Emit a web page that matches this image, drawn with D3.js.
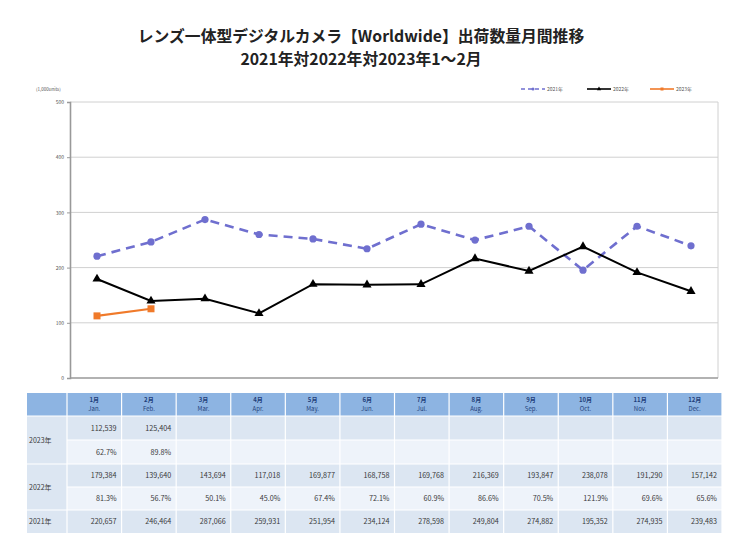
<!DOCTYPE html>
<html><head><meta charset="utf-8">
<script src="https://cdn.jsdelivr.net/npm/d3@7"></script>
<style>body{margin:0;background:#fff}svg{display:block}</style>
</head><body><div id="chart"></div>
<script>
const monthsJa = ["1月","2月","3月","4月","5月","6月","7月","8月","9月","10月","11月","12月"];
const monthsEn = ["Jan.","Feb.","Mar.","Apr.","May.","Jun.","Jul.","Aug.","Sep.","Oct.","Nov.","Dec."];
const yTicks = [0,100,200,300,400,500];
const units2021 = [220657,246464,287066,259931,251954,234124,278598,249804,274882,195352,274935,239483];
const units2022 = [179384,139640,143694,117018,169877,168758,169768,216369,193847,238078,191290,157142];
const units2023 = [112539,125404];
const pct2022 = ["81.3%","56.7%","50.1%","45.0%","67.4%","72.1%","60.9%","86.6%","70.5%","121.9%","69.6%","65.6%"];
const pct2023 = ["62.7%","89.8%"];
const seriesNames = ["2021年","2022年","2023年"];
const titleLines = ["レンズ一体型デジタルカメラ【Worldwide】出荷数量月間推移","2021年対2022年対2023年1～2月"];

const W=750,H=556;
const font='"Noto Sans CJK JP","Noto Sans",sans-serif';
const svg=d3.select("#chart").append("svg").attr("width",W).attr("height",H).style("font-family",font);
svg.append("rect").attr("width",W).attr("height",H).attr("fill","#fff");

// title
svg.selectAll("text.title").data(titleLines).join("text")
  .attr("x",361).attr("y",(d,i)=>42+i*23).attr("text-anchor","middle")
  .attr("font-size",15.8).attr("font-weight","bold").attr("fill","#222").text(d=>d);

const plot={l:70,r:718,t:102,b:378};
const x=d3.scaleBand().domain(d3.range(12)).range([plot.l,plot.r]);
const y=d3.scaleLinear().domain([0,500]).range([plot.b,plot.t]);
const cx=i=>x(i)+x.bandwidth()/2;

// grid
svg.append("g").selectAll("line").data(yTicks.filter(d=>d>0)).join("line")
  .attr("x1",plot.l).attr("x2",plot.r).attr("y1",d=>y(d)).attr("y2",d=>y(d))
  .attr("stroke","#d0d0d0").attr("stroke-width",1);
svg.append("line").attr("x1",plot.r).attr("x2",plot.r).attr("y1",plot.t).attr("y2",plot.b).attr("stroke","#d0d0d0");
// axis
const yAxis=d3.axisLeft(y).tickValues(yTicks).tickSize(3).tickFormat(d3.format("d"));
const gy=svg.append("g").attr("transform",`translate(${plot.l},0)`).call(yAxis);
gy.select(".domain").attr("stroke","#999").attr("stroke-width",1.6);
gy.selectAll(".tick line").attr("stroke","#999");
gy.selectAll("text").attr("font-size",5).attr("fill","#555").attr("x",-6).attr("font-family",font);
svg.append("line").attr("x1",plot.l).attr("x2",plot.r).attr("y1",plot.b).attr("y2",plot.b).attr("stroke","#999").attr("stroke-width",1.6);
svg.append("text").attr("x",36).attr("y",91).attr("font-size",4.5).attr("fill","#555").text("(1,000units)");

// series
const col2021="#6f6fcf", col2022="#000", col2023="#f07a2a";
const line=d3.line().x((d,i)=>cx(i)).y(d=>y(d/1000));
svg.append("path").datum(units2021).attr("d",line).attr("fill","none").attr("stroke",col2021).attr("stroke-width",2.6).attr("stroke-dasharray","9,6");
svg.append("g").selectAll("circle").data(units2021).join("circle").attr("cx",(d,i)=>cx(i)).attr("cy",d=>y(d/1000)).attr("r",3.6).attr("fill",col2021);
svg.append("path").datum(units2022).attr("d",line).attr("fill","none").attr("stroke",col2022).attr("stroke-width",2);
const tri=d3.symbol().type(d3.symbolTriangle).size(36);
svg.append("g").selectAll("path").data(units2022).join("path").attr("d",tri).attr("transform",(d,i)=>`translate(${cx(i)},${y(d/1000)})`).attr("fill",col2022);
svg.append("path").datum(units2023).attr("d",line).attr("fill","none").attr("stroke",col2023).attr("stroke-width",2.2);
svg.append("g").selectAll("rect").data(units2023).join("rect").attr("x",(d,i)=>cx(i)-3.5).attr("y",d=>y(d/1000)-3.5).attr("width",7).attr("height",7).attr("fill",col2023);

// legend
const lg=[{n:seriesNames[0],x:521,c:col2021,dash:"4,3",m:"c"},{n:seriesNames[1],x:587,c:col2022,dash:null,m:"t"},{n:seriesNames[2],x:650,c:col2023,dash:null,m:"s"}];
lg.forEach(d=>{
  const g=svg.append("g");
  g.append("line").attr("x1",d.x).attr("x2",d.x+24).attr("y1",89).attr("y2",89).attr("stroke",d.c).attr("stroke-width",d.m==="c"?1.3:1.6).attr("stroke-dasharray",d.dash);
  if(d.m==="c")g.append("circle").attr("cx",d.x+12).attr("cy",89).attr("r",1.5).attr("fill",d.c);
  if(d.m==="t")g.append("path").attr("d",d3.symbol().type(d3.symbolTriangle).size(8)).attr("transform",`translate(${d.x+12},89)`).attr("fill",d.c);
  if(d.m==="s")g.append("rect").attr("x",d.x+10.5).attr("y",87.5).attr("width",3).attr("height",3).attr("fill",d.c);
  g.append("text").attr("x",d.x+26).attr("y",91).attr("font-size",5).attr("fill","#555").text(d.n);
});

// table
const tx0=27, labW=40, tEnd=722;
const cw=(tEnd-tx0-labW)/12;
const tcx=d3.scaleBand().domain(d3.range(12)).range([tx0+labW,tEnd]);
const rowsY=[393,416,440,464,487,510,533];
const hdrCol="#8db4e2", rowA="#dce6f2", rowB="#eef3fa";
const tg=svg.append("g");
// header
tg.append("rect").attr("x",tx0).attr("y",rowsY[0]).attr("width",tEnd-tx0).attr("height",rowsY[1]-rowsY[0]).attr("fill",hdrCol);
// rows backgrounds
const rowFills=[rowA,rowB,rowA,rowB,rowA];
rowFills.forEach((f,i)=>{
  tg.append("rect").attr("x",tx0+labW).attr("y",rowsY[i+1]).attr("width",tEnd-tx0-labW).attr("height",rowsY[i+2]-rowsY[i+1]).attr("fill",f);
});
// label cells
[[1,3],[3,5],[5,6]].forEach(([a,b])=>{
  tg.append("rect").attr("x",tx0).attr("y",rowsY[a]).attr("width",labW).attr("height",rowsY[b]-rowsY[a]).attr("fill",rowA);
});
// white borders
tg.selectAll("line.v").data(d3.range(13)).join("line")
  .attr("x1",d=>tx0+labW+d*cw).attr("x2",d=>tx0+labW+d*cw).attr("y1",rowsY[0]).attr("y2",rowsY[6])
  .attr("stroke","#fff").attr("stroke-width",1.2);
tg.selectAll("line.h").data([1,2,3,4,5]).join("line")
  .attr("x1",d=>(d===2||d===4)?tx0+labW:tx0).attr("x2",tEnd).attr("y1",d=>rowsY[d]).attr("y2",d=>rowsY[d])
  .attr("stroke","#fff").attr("stroke-width",1.2);
// header text
tg.selectAll("text.hj").data(monthsJa).join("text").attr("x",(d,i)=>tcx(i)+cw/2).attr("y",401.5).attr("text-anchor","middle")
  .attr("font-size",6).attr("font-weight","bold").attr("fill","#1f3f7a").text(d=>d);
tg.selectAll("text.he").data(monthsEn).join("text").attr("x",(d,i)=>tcx(i)+cw/2).attr("y",411).attr("text-anchor","middle")
  .attr("font-size",6).attr("fill","#1f3f7a").text(d=>d);
// row labels
[["2023年",(rowsY[1]+rowsY[3])/2],["2022年",(rowsY[3]+rowsY[5])/2],["2021年",(rowsY[5]+rowsY[6])/2]].forEach(([t,yy])=>{
  tg.append("text").attr("x",tx0+2).attr("y",yy+2.5).attr("font-size",7).attr("fill","#3a3a3a").text(t);
});
const fmt=d3.format(",");
function rowText(vals,ri,f){
  tg.append("g").selectAll("text").data(vals).join("text")
    .attr("x",(d,i)=>tcx(i)+cw-5).attr("y",(rowsY[ri]+rowsY[ri+1])/2+2.5).attr("text-anchor","end")
    .attr("font-size",7.2).attr("fill","#3a3a3a").text(d=>f?f(d):d);
}
rowText(units2023,1,fmt);
rowText(pct2023,2);
rowText(units2022,3,fmt);
rowText(pct2022,4);
rowText(units2021,5,fmt);
</script></body></html>
